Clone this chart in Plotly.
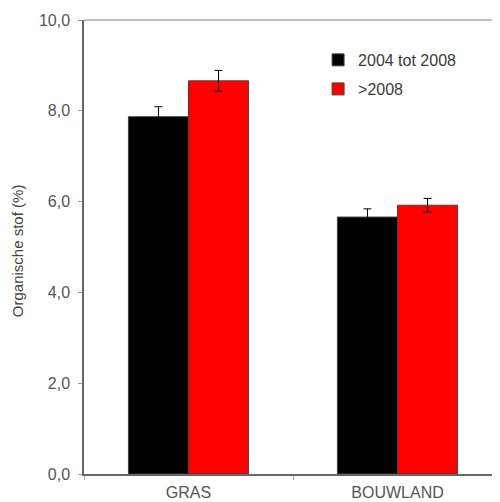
import plotly.graph_objects as go

categories = ["GRAS", "BOUWLAND"]
series_names = ["2004 tot 2008", ">2008"]
values_early = [7.87, 5.66]
errors_early = [0.22, 0.18]
values_late = [8.66, 5.92]
errors_late = [0.23, 0.15]
y_ticks = [0, 2, 4, 6, 8, 10]
y_tick_labels = ["0,0", "2,0", "4,0", "6,0", "8,0", "10,0"]
y_title = "Organische stof (%)"

fig = go.Figure()
fig.add_trace(go.Bar(
    x=categories, y=values_early, name=series_names[0],
    marker=dict(color="#000000", line=dict(color="#444444", width=1)),
    error_y=dict(type="data", array=errors_early, color="#000000", thickness=1, width=4),
    legend="legend", showlegend=True,
))
fig.add_trace(go.Bar(
    x=categories, y=values_late, name=series_names[1],
    marker=dict(color="#ff0000", line=dict(color="#444444", width=1)),
    error_y=dict(type="data", array=errors_late, color="#000000", thickness=1, width=4),
    legend="legend2", showlegend=True,
))

FONT = "Liberation Sans, Arial, sans-serif"
legend_font = dict(family=FONT, size=16, color="#3a3a3a")
fig.update_layout(
    width=500, height=502,
    margin=dict(l=76, r=6, t=12, b=36),
    paper_bgcolor="white", plot_bgcolor="white",
    barmode="group", bargap=0.425, bargroupgap=0,
    showlegend=True,
    font=dict(family=FONT, size=16, color="#555555"),
    legend=dict(x=0.56, y=0.912, xanchor="left", yanchor="middle", font=legend_font,
                bgcolor="rgba(0,0,0,0)", itemclick=False, itemdoubleclick=False),
    legend2=dict(x=0.56, y=0.848, xanchor="left", yanchor="middle", font=legend_font,
                 bgcolor="rgba(0,0,0,0)", itemclick=False, itemdoubleclick=False),
    xaxis=dict(
        range=[-0.5, 1.5], showline=True, linecolor="#666666", linewidth=1.5,
        ticks="outside", tickson="boundaries", ticklen=4, tickcolor="#aaaaaa",
        showgrid=False, automargin=False, ticklabelstandoff=3,
        tickfont=dict(family=FONT, size=16, color="#555555"),
    ),
    yaxis=dict(
        range=[0, 10], tickvals=y_ticks, ticktext=y_tick_labels,
        showline=True, linecolor="#666666", linewidth=1.5,
        ticks="outside", ticklen=4, tickcolor="#999999", showgrid=False, zeroline=False,
        automargin=False, ticklabelstandoff=5,
        tickfont=dict(family=FONT, size=16, color="#555555"),
    ),
    annotations=[dict(text=y_title, xref="paper", yref="paper", x=-0.1603, y=0.493,
                      xanchor="center", yanchor="middle", textangle=-90, showarrow=False,
                      font=dict(family=FONT, size=15, color="#444444"))],
    shapes=[dict(type="line", xref="paper", yref="paper", x0=0, x1=1, y0=1, y1=1,
                 line=dict(color="#aaaaaa", width=1.5))],
)

fig.write_html("out.html")
